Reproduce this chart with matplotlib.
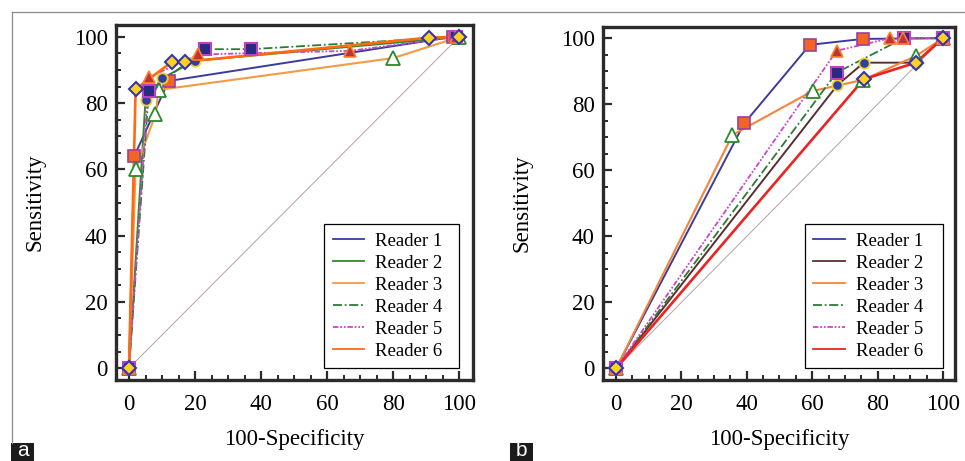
import matplotlib
matplotlib.use("Agg")
import matplotlib.pyplot as plt
from matplotlib.lines import Line2D
from matplotlib.patches import Rectangle
from matplotlib.ticker import MultipleLocator

plt.rcParams['font.family'] = ['Liberation Serif', 'DejaVu Serif']

W, H = 965, 461

readers = ["Reader 1", "Reader 2", "Reader 3", "Reader 4", "Reader 5", "Reader 6"]

# Panel a data (100-Specificity, Sensitivity)
a_x = [
    [0, 1.6, 12, 98],
    [0, 5, 10, 20, 100],
    [0, 2, 8, 9, 80, 100],
    [0, 6, 23, 37, 99],
    [0, 6, 21, 67, 99],
    [0, 2, 13, 17, 91, 100],
]
a_y = [
    [0, 64, 86.7, 100],
    [0, 81, 87.5, 92.8, 100],
    [0, 60, 76.6, 84, 93.6, 100],
    [0, 83.6, 96.3, 96.3, 100],
    [0, 87.8, 94.7, 95.8, 100],
    [0, 84.2, 92.5, 92.5, 99.8, 100],
]

# Panel b data
b_x = [
    [0, 39.2, 59.3, 75.6, 100],
    [0, 67.7, 75.8, 91.7, 100],
    [0, 35.6, 60.1, 75.6, 91.7, 100],
    [0, 67.5, 88, 100],
    [0, 67.5, 83.8, 87.9, 100],
    [0, 75.8, 91.7, 100],
]
b_y = [
    [0, 74.2, 98, 99.8, 100],
    [0, 85.8, 92.6, 92.6, 100],
    [0, 70.7, 84, 87.4, 94.6, 100],
    [0, 89.6, 100, 100],
    [0, 96.2, 100, 100, 100],
    [0, 87.6, 92.6, 100],
]

ticks = [0, 20, 40, 60, 80, 100]

# styles
navy = '#3b3b9e'
a_colors = [navy, '#2f8a2f', '#f39a45', '#2e7a35', '#cc44cc', '#ff6a12']
b_colors = [navy, '#5b2f2f', '#f5843a', '#2e7a35', '#cc44cc', '#ee2222']
styles = ['-', '-', '-', (0, (5, 1.5, 1, 1.5)), (0, (3, 1, 1, 1, 1, 1)), '-']
widths = [1.4, 1.4, 1.5, 1.3, 1.3, 1.9]
markers = [
    dict(marker='s', mfc='#f26522', mec='#9b3fa0', ms=8, mew=1.2),
    dict(marker='o', mfc='#2f3fa8', mec='#f2d22a', ms=7.5, mew=1.3),
    dict(marker='^', mfc='white', mec='#2a8a2a', ms=9.5, mew=1.3),
    dict(marker='s', mfc='#2a2a85', mec='#c040c0', ms=8, mew=1.5),
    dict(marker='^', mfc='#b8363a', mec='#ff7f27', ms=9, mew=1.2),
    dict(marker='D', mfc='#ffd21f', mec='#3535b0', ms=7.5, mew=1.5),
]

fig = plt.figure(figsize=(W / 100, H / 100), dpi=100)


def make_panel(rect, xs, ys, colors, xlim, ylim, leg_x0):
    ax = fig.add_axes(rect)
    ax.plot([0, 100], [0, 100], color='#b8a0a0', lw=0.7, zorder=1)
    order = [2, 1, 0, 3, 4, 5]
    for i in order:
        ax.plot(xs[i], ys[i], color=colors[i], ls=styles[i], lw=widths[i],
                zorder=2 + i * 0.1)
    for i in order:
        ax.plot(xs[i], ys[i], ls='none', zorder=3 + i * 0.1, **markers[i])
    ax.set_xlim(*xlim)
    ax.set_ylim(*ylim)
    ax.set_xticks(ticks)
    ax.set_yticks(ticks)
    ax.xaxis.set_minor_locator(MultipleLocator(5))
    ax.yaxis.set_minor_locator(MultipleLocator(5))
    ax.tick_params(which='major', direction='in', length=6.5, width=1.6,
                   color='#2b2b2b', labelsize=16.5)
    ax.tick_params(which='minor', direction='in', length=3.5, width=1.4,
                   color='#2b2b2b')
    ax.tick_params(axis='y', which='major', pad=6)
    ax.tick_params(axis='x', which='major', pad=10)
    for sp in ax.spines.values():
        sp.set_linewidth(2.4)
        sp.set_color('#2b2b2b')
    ax.set_xlabel('100-Specificity', fontsize=16.5, labelpad=10)
    ax.set_ylabel('Sensitivity', fontsize=16.5, labelpad=20)
    handles = [Line2D([], [], color=colors[i], ls=styles[i], lw=1.3)
               for i in range(6)]
    leg = ax.legend(handles, readers, loc='lower left',
                    bbox_to_anchor=(leg_x0, 0, 100 - leg_x0, 40),
                    bbox_transform=ax.transData, mode='expand',
                    borderaxespad=0, fontsize=13.5, frameon=True, fancybox=False,
                    edgecolor='black', framealpha=1, handlelength=1.7,
                    handletextpad=0.55, labelspacing=0.26, borderpad=0.45)
    leg.get_frame().set_linewidth(0.9)
    return ax


ax_a = make_panel([116 / W, (H - 380) / H, (473 - 116) / W, (380 - 25) / H],
                  a_x, a_y, a_colors, (-3.94, 104.2), (-3.6, 103.6), 59.1)
ax_b = make_panel([603 / W, (H - 380) / H, (955 - 603) / W, (380 - 27) / H],
                  b_x, b_y, b_colors, (-4.0, 103.7), (-3.5, 103.4), 57.8)

# outer frame lines
fig.add_artist(Line2D([11.5 / W, 1.0], [1 - 12.5 / H, 1 - 12.5 / H],
                      color='#8a8a8a', lw=0.9, transform=fig.transFigure))
fig.add_artist(Line2D([11.5 / W, 11.5 / W], [1 - 12.5 / H, 1 - 443 / H],
                      color='#8a8a8a', lw=0.9, transform=fig.transFigure))

# panel tags
for lab, x0 in (('a', 11), ('b', 510)):
    fig.add_artist(Rectangle((x0 / W, 0), 23 / W, 18.5 / H, color='#1c1c1c',
                             transform=fig.transFigure, lw=0))
    fig.text((x0 + 11.5) / W, 1.0 / H, lab, color='white', fontsize=15,
             ha='center', va='bottom',
             family=['Liberation Sans Narrow', 'Liberation Sans', 'DejaVu Sans'])

fig.savefig('out.png', dpi=100)
